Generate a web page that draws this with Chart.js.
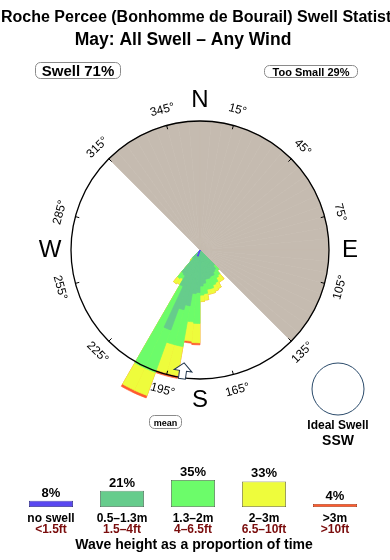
<!DOCTYPE html>
<html>
<head>
<meta charset="utf-8">
<script src="https://cdn.jsdelivr.net/npm/chart.js@4.4.0/dist/chart.umd.min.js"></script>
<style>
  html, body { margin: 0; padding: 0; background: #fff; }
  #wrap { position: relative; width: 390px; height: 560px; overflow: hidden; }
  #rose { position: absolute; left: 0; top: 0; }
  #legend { position: absolute; left: 0; top: 460px; }
</style>
</head>
<body>
<div id="wrap">
  <canvas id="rose" width="390" height="560"></canvas>
  <canvas id="legend" width="390" height="100"></canvas>
</div>
<script>
// direction bins (start bearing, 5 deg wide) that hold swell
const binStarts = [135, 140, 145, 150, 155, 160, 165, 170, 175, 180, 185, 190, 195, 200, 205, 210, 215, 220];
// radial length of each height class per bin (outer ring = 10)
const noSwell = [0, 0, 0, 0, 0, 0, 0, 0, 0, 0, 0, 0.2, 0.5, 0.5, 0.2, 0, 0, 0];
const h05to13 = [1.6, 1.9, 2.0, 2.2, 2.2, 2.3, 2.3, 2.6, 2.8, 3.3, 3.4, 4.2, 4.3, 6.1, 2.9, 2.3, 2.2, 0.8];
const h13to2  = [0.5, 0.5, 0.5, 0.6, 0.7, 0.8, 0.8, 0.8, 0.7, 2.4, 2.2, 3.2, 2.8, 3.5, 7.0, 0.3, 0.5, 0.1];
const h2to3   = [0, 0.5, 0.4, 0.5, 0.5, 0.4, 0.4, 0.5, 0.5, 1.5, 1.5, 2.3, 2.3, 1.9, 1.9, 0.5, 0.5, 0.2];
const h3plus  = [0, 0, 0, 0, 0, 0, 0, 0, 0, 0.15, 0.15, 0.2, 0.2, 0.2, 0.2, 0, 0, 0];

// legend: share of time per class
const classLabels = ['no swell', '0.5–1.3m', '1.3–2m', '2–3m', '>3m'];
const classFeet = ['<1.5ft', '1.5–4ft', '4–6.5ft', '6.5–10ft', '>10ft'];
const classShare = [8, 21, 35, 33, 4];

const swellShare = 71;
const tooSmallShare = 29;
const shadowFrom = 315;   // land shadow, clockwise to shadowTo
const shadowTo = 135;
const meanDir = 188;
const idealDir = 'SSW';
const degTicks = [15, 45, 75, 105, 135, 165, 195, 225, 255, 285, 315, 345];
const compassLetters = ['N', 'E', 'S', 'W'];

const colors = ['#5a48f0', '#66cc8c', '#6cfc6a', '#eefc3c', '#ff5a2e'];
const edgeColors = ['#2c2a7a', '#4d6a58', '#4f6a4f', '#6a6a3c', '#a8401e'];
const shadeColor = '#c5bbb0';
const FONT = '"Liberation Sans", Arial, Helvetica, sans-serif';
const rMax = 10;

const binSize = 5;
const nBins = 360 / binSize;
const angleLabels = [];
for (let i = 0; i < nBins; i++) angleLabels.push(i * binSize);

function spread(vals) {
  const out = new Array(nBins).fill(0);
  binStarts.forEach((b, i) => { out[b / binSize] = vals[i]; });
  return out;
}

// cumulative so each class sits on top of the previous
const stacked = [];
let running = new Array(nBins).fill(0);
[noSwell, h05to13, h13to2, h2to3, h3plus].map(spread).forEach(c => {
  running = running.map((v, i) => v + c[i]);
  stacked.push(running);
});
const shade = angleLabels.map(a => (a >= shadowFrom || a < shadowTo) ? rMax : 0);

const roseSets = stacked.map((d, k) => ({
  data: d,
  backgroundColor: colors[k],
  borderColor: colors[k],
  borderWidth: c => (c.raw > 0 ? 0.7 : 0),
  clip: false
}));
roseSets.push({ data: shade, backgroundColor: shadeColor, borderColor: shadeColor,
  borderWidth: c => (c.raw > 0 ? 0.7 : 0), clip: false });

const compassPlugin = {
  id: 'compass',
  afterDatasetsDraw(chart) {
    const s = chart.scales.r, ctx = chart.ctx;
    const cx = s.xCenter, cy = s.yCenter, R = s.drawingArea;
    const pt = (deg, r) => {
      const a = (deg - 90) * Math.PI / 180;
      return [cx + r * Math.cos(a), cy + r * Math.sin(a)];
    };
    ctx.save();
    ctx.beginPath();
    ctx.arc(cx, cy, R, 0, 2 * Math.PI);
    ctx.strokeStyle = '#000';
    ctx.lineWidth = 1.3;
    ctx.stroke();

    ctx.font = '12px ' + FONT;
    ctx.fillStyle = '#000';
    ctx.textAlign = 'center';
    ctx.textBaseline = 'middle';
    ctx.lineWidth = 1;
    degTicks.forEach(d => {
      const [x1, y1] = pt(d, R - 4), [x2, y2] = pt(d, R);
      ctx.beginPath(); ctx.moveTo(x1, y1); ctx.lineTo(x2, y2); ctx.stroke();
      const [lx, ly] = pt(d, R + 16);
      const rot = (d > 90 && d < 270) ? d - 180 : d;
      ctx.save();
      ctx.translate(lx, ly);
      ctx.rotate(rot * Math.PI / 180);
      ctx.fillText(d + '°', 0, 0);
      ctx.restore();
    });

    ctx.font = '24px ' + FONT;
    compassLetters.forEach((l, i) => {
      const [x, y] = pt(i * 90, R + 21);
      ctx.fillText(l, x, y);
    });

    // mean direction arrow
    ctx.translate(cx, cy);
    ctx.rotate(meanDir * Math.PI / 180);
    ctx.beginPath();
    ctx.moveTo(0, -(R - 15));
    ctx.lineTo(9, -(R - 7));
    ctx.lineTo(3.5, -(R - 7));
    ctx.lineTo(3.5, -(R + 1));
    ctx.lineTo(-3.5, -(R + 1));
    ctx.lineTo(-3.5, -(R - 7));
    ctx.lineTo(-9, -(R - 7));
    ctx.closePath();
    ctx.fillStyle = '#fff';
    ctx.fill();
    ctx.strokeStyle = '#23384e';
    ctx.stroke();
    ctx.restore();
  },
  afterDraw(chart) {
    const ctx = chart.ctx;
    ctx.save();
    ctx.fillStyle = '#000';
    ctx.textBaseline = 'alphabetic';
    ctx.font = 'bold 16px ' + FONT;
    ctx.textAlign = 'left';
    ctx.fillText('Roche Percee (Bonhomme de Bourail) Swell Statistics', 1, 22);
    ctx.textAlign = 'center';
    ctx.font = 'bold 17.5px ' + FONT;
    ctx.fillText('May: All Swell – Any Wind', 183, 45);

    const box = (x, y, w, h) => {
      ctx.beginPath();
      ctx.roundRect(x, y, w, h, 5);
      ctx.strokeStyle = '#8a8a8a';
      ctx.lineWidth = 1;
      ctx.stroke();
    };
    box(35.5, 62.5, 85, 16);
    ctx.font = 'bold 15px ' + FONT;
    ctx.fillText('Swell ' + swellShare + '%', 78, 76);
    box(264.5, 65.5, 93, 12);
    ctx.font = 'bold 11px ' + FONT;
    ctx.fillText('Too Small ' + tooSmallShare + '%', 311, 75.5);
    box(149.5, 415.5, 32, 13);
    ctx.font = 'bold 9px ' + FONT;
    ctx.fillText('mean', 165.5, 425.5);

    ctx.beginPath();
    ctx.arc(338, 389, 26, 0, 2 * Math.PI);
    ctx.strokeStyle = '#2a4a6a';
    ctx.stroke();
    ctx.font = 'bold 12px ' + FONT;
    ctx.fillText('Ideal Swell', 338, 429);
    ctx.font = 'bold 14px ' + FONT;
    ctx.fillText(idealDir, 338, 445);
    ctx.restore();
  }
};

new Chart(document.getElementById('rose'), {
  type: 'polarArea',
  data: { labels: angleLabels, datasets: roseSets },
  options: {
    responsive: false,
    animation: false,
    events: [],
    layout: { padding: { left: 71, right: 61, top: 121, bottom: 181 } },
    plugins: { legend: { display: false }, tooltip: { enabled: false } },
    scales: {
      r: {
        min: 0, max: rMax, startAngle: 0,
        ticks: { display: false },
        grid: { display: false },
        angleLines: { display: false },
        pointLabels: { display: false }
      }
    }
  },
  plugins: [compassPlugin]
});

const legendPlugin = {
  id: 'legendLabels',
  afterDatasetsDraw(chart) {
    const ctx = chart.ctx, meta = chart.getDatasetMeta(0);
    ctx.save();
    ctx.textAlign = 'center';
    ctx.textBaseline = 'alphabetic';
    meta.data.forEach((bar, i) => {
      ctx.fillStyle = '#000';
      ctx.font = 'bold 13px ' + FONT;
      ctx.fillText(classShare[i] + '%', bar.x, bar.y - 4);
      ctx.font = 'bold 12px ' + FONT;
      ctx.fillText(classLabels[i], bar.x, 62);
      ctx.fillStyle = '#7a0c0c';
      ctx.fillText(classFeet[i], bar.x, 73);
    });
    ctx.fillStyle = '#000';
    ctx.font = 'bold 14px ' + FONT;
    ctx.fillText('Wave height as a proportion of time', 194, 89);
    ctx.restore();
  }
};

new Chart(document.getElementById('legend'), {
  type: 'bar',
  data: {
    labels: classLabels,
    datasets: [{
      data: classShare,
      backgroundColor: colors,
      borderColor: edgeColors,
      borderWidth: 0.8,
      borderSkipped: false,
      barPercentage: 0.62,
      categoryPercentage: 1
    }]
  },
  options: {
    responsive: false,
    animation: false,
    events: [],
    layout: { padding: { left: 15.5, right: 19.5, top: 16, bottom: 53 } },
    plugins: { legend: { display: false }, tooltip: { enabled: false } },
    scales: {
      x: { display: false },
      y: { display: false, min: 0, max: 40 }
    }
  },
  plugins: [legendPlugin]
});
</script>
</body>
</html>
